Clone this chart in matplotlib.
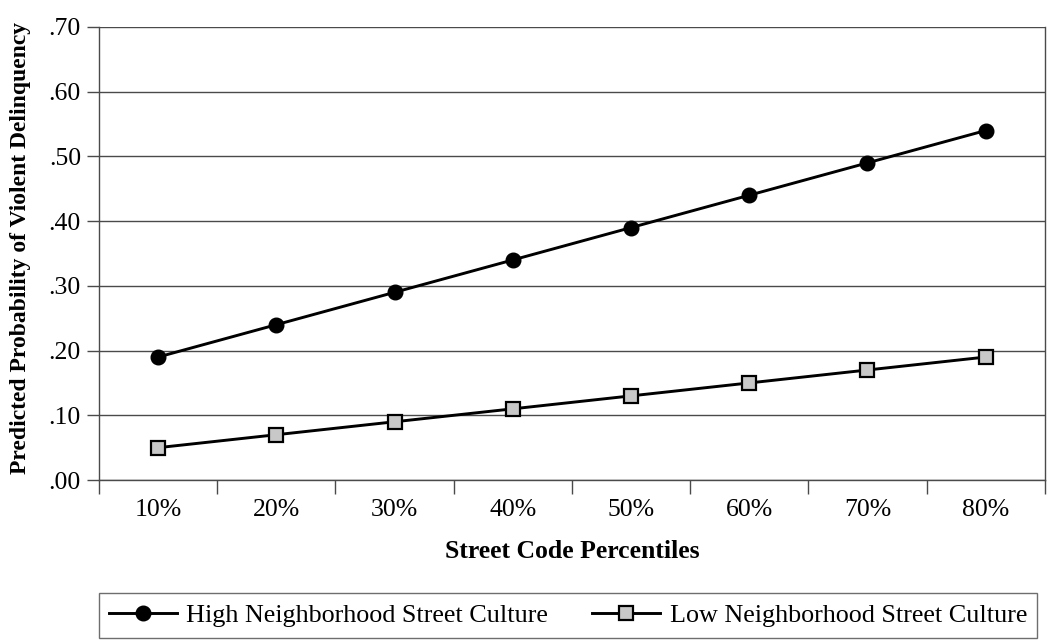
import matplotlib

matplotlib.use("Agg")

import matplotlib.pyplot as plt
import numpy as np

percentiles = ["10%", "20%", "30%", "40%", "50%", "60%", "70%", "80%"]
high_culture = [0.19, 0.24, 0.29, 0.34, 0.39, 0.44, 0.49, 0.54]
low_culture = [0.05, 0.07, 0.09, 0.11, 0.13, 0.15, 0.17, 0.19]
y_ticks = [0.0, 0.1, 0.2, 0.3, 0.4, 0.5, 0.6, 0.7]
y_labels = [".00", ".10", ".20", ".30", ".40", ".50", ".60", ".70"]

plt.rcParams["font.family"] = ["Liberation Serif", "DejaVu Serif"]

grid_col = "#4a4a4a"

fig = plt.figure(figsize=(10.5, 6.42), dpi=100)
ax = fig.add_axes([0.0943, 0.2523, 0.9007, 0.7057])

x = np.arange(1, len(percentiles) + 1)
ax.plot(x, high_culture, color="black", lw=2.1, marker="o", ms=10.5,
        mfc="black", mec="black", label="High Neighborhood Street Culture", zorder=3)
ax.plot(x, low_culture, color="black", lw=2.1, marker="s", ms=9.5,
        mfc="#c8c8c8", mec="black", mew=1.6, label="Low Neighborhood Street Culture", zorder=3)

ax.set_xlim(0.5, len(percentiles) + 0.5)
ax.set_ylim(0, 0.7)
ax.set_yticks(y_ticks, labels=y_labels)
ax.set_xticks(x, labels=percentiles)
ax.set_xticks(np.arange(0.5, len(percentiles) + 1), minor=True)
ax.tick_params(axis="x", which="major", length=0, pad=14, labelsize=18.5)
ax.tick_params(axis="x", which="minor", length=10, width=1, color=grid_col, direction="out")
ax.tick_params(axis="y", length=9, width=1, color=grid_col, direction="out", labelsize=18.5, pad=4)

ax.grid(axis="y", color=grid_col, lw=1)
ax.set_axisbelow(True)
for side in ["left", "right", "bottom"]:
    ax.spines[side].set_color(grid_col)
    ax.spines[side].set_linewidth(1)
ax.spines["top"].set_visible(False)

ax.set_xlabel("Street Code Percentiles", fontsize=18.5, fontweight="bold", labelpad=13)
ax.set_ylabel("Predicted Probability of Violent Delinquency", fontsize=17,
              fontweight="bold")
ax.yaxis.set_label_coords(-0.072, 0.513)

leg = fig.legend(loc="center", bbox_to_anchor=(0.541, 0.0413), ncol=2, fontsize=18.8,
                 frameon=True, fancybox=False, edgecolor=grid_col, columnspacing=1.7,
                 handlelength=2.6, borderpad=0.4, handletextpad=0.35, borderaxespad=0)
leg.get_frame().set_linewidth(1)

fig.savefig("out.png", dpi=100)
plt.close(fig)
